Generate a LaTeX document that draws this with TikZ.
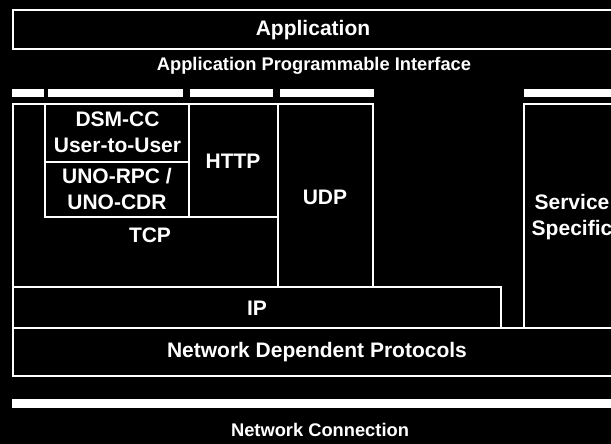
\documentclass[tikz,border=0pt]{standalone}
\usepackage{fontspec}
\setmainfont{Liberation Sans}

\begin{document}
\begin{tikzpicture}[
    x=1pt, y=-1pt,
    layer/.style={rectangle, draw=white, line width=2pt, inner sep=0pt},
    lbl/.style={text=white, align=center, inner sep=0pt,
        font=\fontsize{21}{26}\selectfont\bfseries},
    small/.style={lbl, font=\fontsize{18.3}{22}\selectfont\bfseries},
    bar/.style={fill=white}
]

    \newcommand{\drawlayer}[5]{
        \node[layer, minimum width={#4-#2}, minimum height={#5-#3}]
            (#1) at ({(#2+#4)/2}, {(#3+#5)/2}) {};
    }

    % Background and crop
    \useasboundingbox (0,0) rectangle (611,444);
    \fill[black] (0,0) rectangle (611,444);
    \clip (0,0) rectangle (611,444);

    % --- Application and interface ---
    \drawlayer{app}{13}{10.5}{614}{49}
    \node[lbl] (appname) at (313,30) {Application};
    \node[small] (api) at (314,66) {Application Programmable Interface};

    % Interface bars
    \foreach \a/\b in {12/44, 48/183, 190/273, 280/374, 524/620} {
        \fill[bar] (\a,89) rectangle (\b,97);
    }

    % --- Protocol stack ---
    \drawlayer{tcp}{13}{104}{278}{287}
    \drawlayer{dsm}{45}{104}{189}{161.5}
    \drawlayer{uno}{45}{161.5}{189}{216.5}
    \drawlayer{http}{189}{104}{278}{216.5}
    \drawlayer{udp}{278}{104}{373}{287}
    \drawlayer{ip}{13}{287}{501}{328}
    \drawlayer{svc}{524}{104}{620}{328}
    \drawlayer{ndp}{13}{328}{620}{376}

    % Labels
    \node[lbl] (dsmname) at (117.5,132.5) {DSM-CC\\User-to-User};
    \node[lbl] (unoname) at (117,188.5) {UNO-RPC /\\UNO-CDR};
    \node[lbl] (httpname) at (233,161) {HTTP};
    \node[lbl] (udpname) at (325,197) {UDP};
    \node[lbl] (tcpname) at (150,235) {TCP};
    \node[lbl] (ipname) at (257,308) {IP};
    \node[lbl] (svcname) at (572,217) {Service\\Specific};
    \node[lbl] (ndpname) at (317,352) {Network Dependent Protocols};

    % --- Network connection ---
    \fill[bar] (12,399) rectangle (620,408);
    \node[small] (netname) at (320,430) {Network Connection};
\end{tikzpicture}
\end{document}
